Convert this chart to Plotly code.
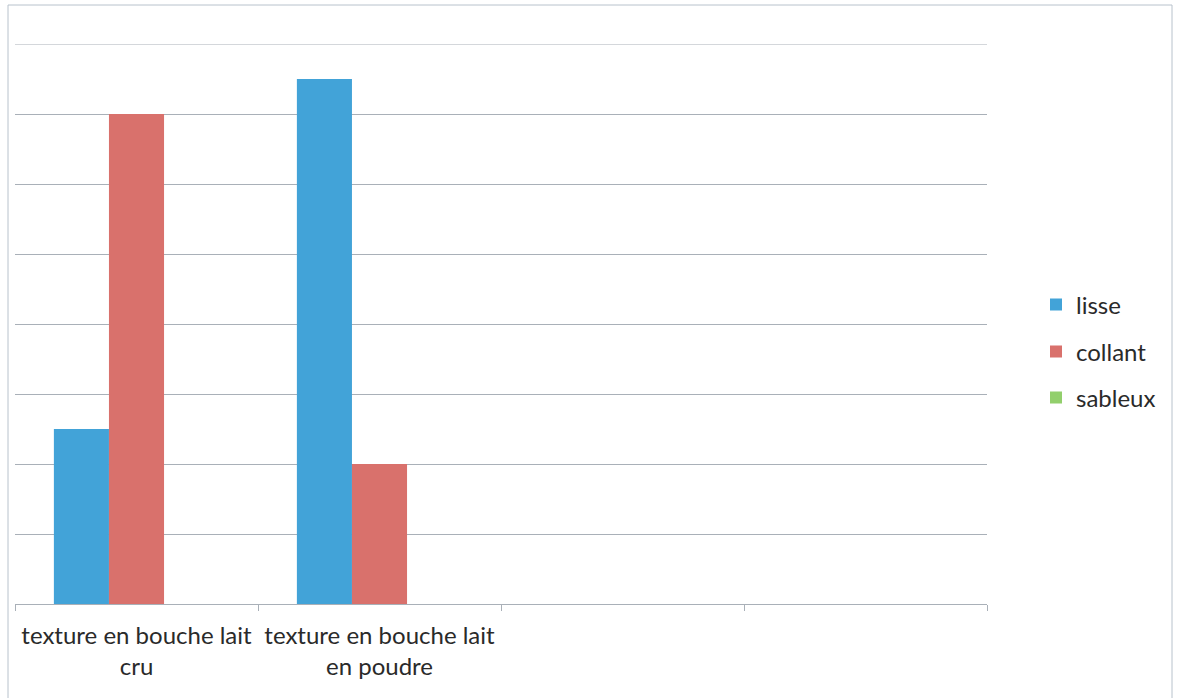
import plotly.graph_objects as go

# Categories (the last two slots are left empty on the axis)
categories = ["texture en bouche lait<br>cru", "texture en bouche lait<br>en poudre", " ", "  "]

# Series values
lisse = [2.5, 7.5, None, None]
collant = [7, 2, None, None]
sableux = [0, 0, None, None]

series_names = ["lisse", "collant", "sableux"]
series_colors = ["#42a3d8", "#d9716c", "#92cf6c"]
series_values = [lisse, collant, sableux]

Y_MAX = 8

FONT = "Lato, 'Open Sans', sans-serif"
TEXT_COLOR = "#2a2a2a"
GRID_COLOR = "#a9b0b8"

fig = go.Figure()
legend_ids = ["legend", "legend2", "legend3"]
for name, vals, col, lg in zip(series_names, series_values, series_colors, legend_ids):
    fig.add_trace(go.Bar(
        x=categories, y=vals, name=name,
        marker=dict(color=col, line=dict(width=0)),
        legend=lg,
    ))

W, H = 1179, 698
ml, mr, mt, mb = 15, 192, 44, 94
plot_w = W - ml - mr
plot_h = H - mt - mb

def px_to_paper_x(px):
    return (px - ml) / plot_w

def px_to_paper_y(py):
    return (H - mb - py) / plot_h

legend_common = dict(
    font=dict(family=FONT, size=24, color=TEXT_COLOR),
    bgcolor="rgba(0,0,0,0)",
    xanchor="left", yanchor="middle",
    itemwidth=30,
)
legend_rows = [305, 352, 398]
layout_legends = {}
for lg, row in zip(legend_ids, legend_rows):
    layout_legends[lg] = dict(legend_common, x=px_to_paper_x(1036), y=px_to_paper_y(row))

fig.update_layout(
    width=W, height=H,
    margin=dict(l=ml, r=mr, t=mt, b=mb),
    paper_bgcolor="white", plot_bgcolor="white",
    barmode="group", bargap=0.32, bargroupgap=0,
    showlegend=True,
    font=dict(family=FONT, size=24, color=TEXT_COLOR),
    xaxis=dict(
        type="category",
        tickson="boundaries",
        ticks="outside", ticklen=6, tickcolor=GRID_COLOR, tickwidth=1,
        showline=True, linecolor=GRID_COLOR, linewidth=1,
        showgrid=False, zeroline=False,
        tickfont=dict(family=FONT, size=24, color=TEXT_COLOR),
        ticklabelstandoff=10,
    ),
    yaxis=dict(
        range=[0, Y_MAX], dtick=1,
        showticklabels=False,
        showgrid=True, gridcolor=GRID_COLOR, gridwidth=1,
        zeroline=False, showline=False, ticks="",
    ),
    **layout_legends,
)

# Top gridline sits on the edge of the plot area, so draw it explicitly
fig.add_shape(
    type="line", xref="paper", yref="y",
    x0=0, x1=1, y0=Y_MAX, y1=Y_MAX,
    line=dict(color=GRID_COLOR, width=1), layer="below",
)

# Outer chart frame
fig.add_shape(
    type="rect", xref="paper", yref="paper",
    x0=px_to_paper_x(8), x1=px_to_paper_x(1172),
    y0=px_to_paper_y(720), y1=px_to_paper_y(5),
    line=dict(color="#b8c2cc", width=1), fillcolor="rgba(0,0,0,0)",
    layer="below",
)

fig.write_html("out.html")
